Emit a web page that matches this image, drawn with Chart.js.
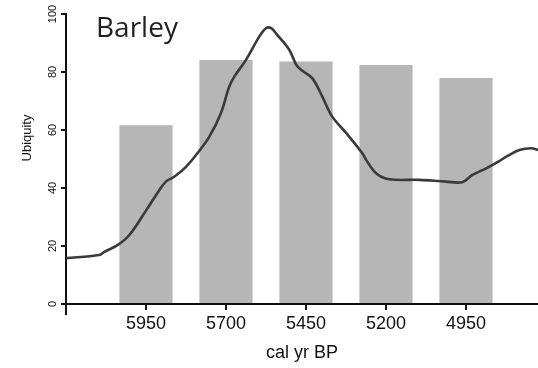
<!DOCTYPE html>
<html lang="en">
<head>
    <meta charset="UTF-8">
    <title>Barley ubiquity</title>
    <style>
        body { margin: 0; background: #fff; }
    </style>
</head>
<body>
    <canvas id="myChart" width="538" height="368"></canvas>

    <script src="https://cdn.jsdelivr.net/npm/chart.js"></script>
    <script>
        // bars: ubiquity per 250-yr bin
        var barYears = [5950, 5700, 5450, 5200, 4950];
        var barValues = [61.6, 84.1, 83.6, 82.4, 77.9];

        // smoothed curve (cal yr BP, ubiquity)
        var curveYears = [6200, 6096, 6080, 6039, 6002, 5950, 5908, 5888, 5862, 5825, 5789, 5752, 5716, 5690,
            5674, 5638, 5596, 5575, 5559, 5540, 5502, 5480, 5461, 5430, 5399, 5368, 5324, 5274, 5262,
            5230, 5190, 5096, 5012, 4962, 4930, 4887, 4846, 4824, 4783, 4746, 4725];
        var curveValues = [15.8, 16.9, 18, 20.3, 23.8, 32.2, 39.3, 42.2, 43.9, 47.3, 52, 57.7, 65.8, 74.9,
            78.4, 84.1, 92.2, 95.1, 95.1, 92.8, 87.6, 82.4, 80.4, 77.8, 71.5, 64.6, 58.9, 52, 49.7,
            45, 43, 42.8, 42.2, 42, 44.5, 46.8, 49.3, 50.8, 53.1, 53.7, 53.1];

        var xTickValues = [5950, 5700, 5450, 5200, 4950];
        var yTickValues = [0, 20, 40, 60, 80, 100];

        var barData = barYears.map(function (x, i) { return { x: x, y: barValues[i] }; });
        var curveData = curveYears.map(function (x, i) { return { x: x, y: curveValues[i] }; });

        // rotated y labels, title, axis stub and the "Barley" heading
        var extras = {
            id: 'extras',
            afterDraw: function (chart) {
                var ctx = chart.ctx;
                var ys = chart.scales.y;
                var left = chart.chartArea.left;
                ctx.save();
                ctx.fillStyle = '#111';
                ctx.font = '11px "Liberation Sans", Arial, sans-serif';
                ctx.textAlign = 'center';
                ctx.textBaseline = 'middle';
                yTickValues.forEach(function (v) {
                    var py = ys.getPixelForValue(v);
                    ctx.save();
                    ctx.translate(53, py);
                    ctx.rotate(-Math.PI / 2);
                    ctx.fillText(String(v), 0, 0);
                    ctx.restore();
                });

                ctx.font = '13px "Liberation Sans", Arial, sans-serif';
                ctx.save();
                ctx.translate(27, 138);
                ctx.rotate(-Math.PI / 2);
                ctx.fillText('Ubiquity', 0, 0);
                ctx.restore();

                // y axis line runs a bit below the x axis
                ctx.strokeStyle = '#111';
                ctx.lineWidth = 2;
                ctx.beginPath();
                ctx.moveTo(left, chart.chartArea.bottom);
                ctx.lineTo(left, chart.chartArea.bottom + 11);
                ctx.stroke();

                ctx.fillStyle = '#231f20';
                ctx.font = '28px "Open Sans", sans-serif';
                ctx.textAlign = 'left';
                ctx.textBaseline = 'alphabetic';
                ctx.fillText('Barley', 96, 37);
                ctx.restore();
            }
        };

        const ctx = document.getElementById('myChart');
        var myChart = new Chart(ctx, {
            type: 'bar',
            data: {
                datasets: [{
                    type: 'line',
                    data: curveData,
                    borderColor: '#3a3a3a',
                    borderWidth: 2.6,
                    pointRadius: 0,
                    tension: 0.35,
                    fill: false
                }, {
                    type: 'bar',
                    data: barData,
                    backgroundColor: '#b6b6b6',
                    borderWidth: 0,
                    categoryPercentage: 1,
                    barPercentage: 0.665
                }]
            },
            options: {
                responsive: false,
                animation: false,
                layout: { padding: { top: 14, right: 0, left: 0, bottom: 0 } },
                plugins: {
                    legend: { display: false },
                    tooltip: { enabled: false }
                },
                scales: {
                    x: {
                        type: 'linear',
                        reverse: true,
                        min: 4725,
                        max: 6200,
                        offset: false,
                        afterBuildTicks: function (scale) {
                            scale.ticks = xTickValues.map(function (v) { return { value: v }; });
                        },
                        afterFit: function (scale) { scale.height = 64; },
                        grid: {
                            display: true,
                            offset: false,
                            drawOnChartArea: false,
                            drawTicks: true,
                            tickLength: 6,
                            color: '#111',
                            lineWidth: 2
                        },
                        border: { display: true, color: '#111', width: 2 },
                        ticks: {
                            color: '#111',
                            padding: 3,
                            maxRotation: 0,
                            font: { family: '"Liberation Sans", Arial, sans-serif', size: 18 },
                            callback: function (v) { return String(v); }
                        },
                        title: {
                            display: true,
                            text: 'cal yr BP',
                            color: '#111',
                            font: { family: '"Liberation Sans", Arial, sans-serif', size: 18 },
                            padding: { top: 2, bottom: 4 }
                        }
                    },
                    y: {
                        min: 0,
                        max: 100,
                        ticks: { display: false, stepSize: 20 },
                        afterFit: function (scale) { scale.width = 66; },
                        grid: {
                            display: true,
                            drawOnChartArea: false,
                            drawTicks: true,
                            tickLength: 5,
                            color: '#111',
                            lineWidth: 2
                        },
                        border: { display: true, color: '#111', width: 2 }
                    }
                }
            },
            plugins: [extras]
        });
    </script>
</body>
</html>
